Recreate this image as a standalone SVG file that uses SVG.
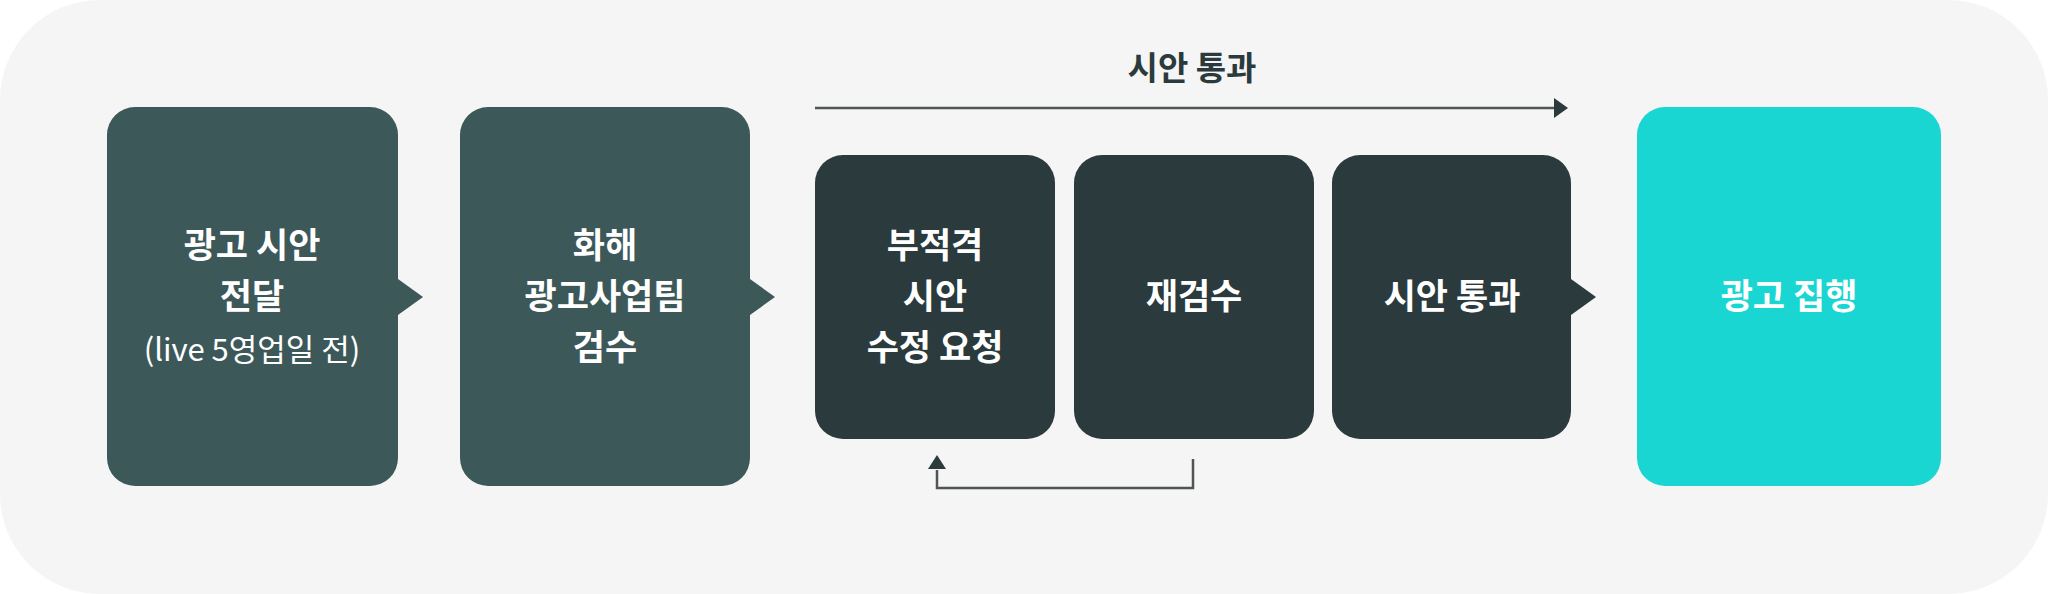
<svg xmlns="http://www.w3.org/2000/svg" width="2048" height="594" viewBox="0 0 2048 594">
<style>
.t{font-family:"Noto Sans CJK KR","Noto Sans",sans-serif;fill:#ffffff;text-anchor:middle;font-weight:700;font-size:35px}
.s{font-weight:400;font-size:31px}
.mid{fill:#3d5859}
.dark{fill:#2b3a3c}
.go{fill:#1ad6d2}
.ln{fill:none;stroke:#4f5555;stroke-width:2.5}
</style>
<defs>
<marker id="ah" viewBox="0 0 14 20" refX="1" refY="10" markerWidth="14" markerHeight="20" markerUnits="userSpaceOnUse" orient="auto">
<path d="M0,0 L14,10 L0,20 Z" fill="#2b3a3c"/>
</marker>
</defs>
<rect x="0" y="0" width="2048" height="594" fill="#ffffff"/>
<rect x="0" y="0" width="2048" height="594" rx="100" ry="100" fill="#f5f5f5"/>

<g id="connectors">
<path class="ln" d="M815,108 H1555" marker-end="url(#ah)"/>
<text class="t" x="1192" y="80" style="fill:#2b3a3c;font-size:33px">시안 통과</text>
<path class="ln" d="M1193,459 V488 H937 V470"/>
<path d="M928,469 L946,469 L937,455 Z" fill="#2b3a3c"/>
</g>

<g id="n1">
<path class="mid" d="M135,107 H370 A28,28 0 0 1 398,135 V279 L423,297 L398,315 V458 A28,28 0 0 1 370,486 H135 A28,28 0 0 1 107,458 V135 A28,28 0 0 1 135,107 Z"/>
<text class="t" x="252" y="258">광고 시안</text>
<text class="t" x="252" y="309">전달</text>
<text class="t s" x="252" y="361">(live 5영업일 전)</text>
</g>

<g id="n2">
<path class="mid" d="M488,107 H722 A28,28 0 0 1 750,135 V279 L775,297 L750,315 V458 A28,28 0 0 1 722,486 H488 A28,28 0 0 1 460,458 V135 A28,28 0 0 1 488,107 Z"/>
<text class="t" x="605" y="258">화해</text>
<text class="t" x="605" y="309">광고사업팀</text>
<text class="t" x="605" y="360">검수</text>
</g>

<g id="n3">
<rect class="dark" x="815" y="155" width="240" height="284" rx="28" ry="28"/>
<text class="t" x="935" y="258">부적격</text>
<text class="t" x="935" y="309">시안</text>
<text class="t" x="935" y="360">수정 요청</text>
</g>

<g id="n4">
<rect class="dark" x="1074" y="155" width="240" height="284" rx="28" ry="28"/>
<text class="t" x="1194" y="309">재검수</text>
</g>

<g id="n5">
<path class="dark" d="M1360,155 H1543 A28,28 0 0 1 1571,183 V279 L1596,297 L1571,315 V411 A28,28 0 0 1 1543,439 H1360 A28,28 0 0 1 1332,411 V183 A28,28 0 0 1 1360,155 Z"/>
<text class="t" x="1452" y="309">시안 통과</text>
</g>

<g id="n6">
<rect class="go" x="1637" y="107" width="304" height="379" rx="28" ry="28"/>
<text class="t" x="1789" y="309">광고 집행</text>
</g>
</svg>
